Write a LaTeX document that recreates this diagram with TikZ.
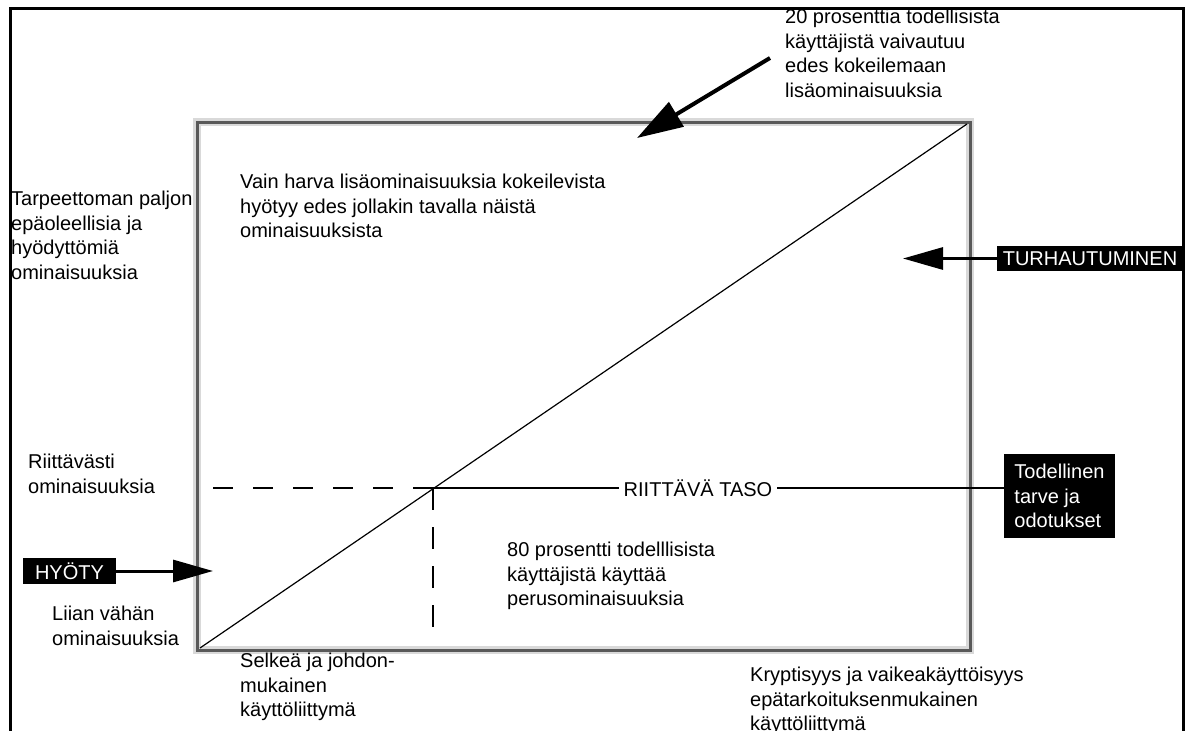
\documentclass[tikz,border=0pt]{standalone}
\usepackage{fontspec}
\setmainfont{Liberation Sans}
\usetikzlibrary{arrows.meta}
\begin{document}
\begin{tikzpicture}[x=1pt, y=-1pt, font=\fontsize{20}{24.5}\selectfont, txt/.style={anchor=north west, inner sep=0pt, align=left}, blackbox/.style={fill=black, text=white, inner sep=0pt}, bigarrow/.style={line width=3pt, -{Triangle[length=40pt, width=22pt]}}]
			\useasboundingbox (0,0) rectangle (1187,731);
			\draw[line width=3pt] (10,731) -- (10,8) -- (1183,8) -- (1183,731);
			\draw[line width=8pt, black!15] (197,122) rectangle (970,650);
			\draw[line width=3pt, black!65] (197,122) rectangle (970,650);
			\coordinate (O) at (200,648);
			\coordinate (Q) at (967,124);
			\coordinate (M) at (433,488);
			\coordinate (L) at (213,488);
			\coordinate (D) at (433,637);
			\draw[line width=1.2pt] (O) -- (Q);
			\node[txt] (t20) at (785,9) {20 prosenttia todellisista\\käyttäjistä vaivautuu\\edes kokeilemaan\\lisäominaisuuksia};
			\node[txt] (vain) at (240,174) {Vain harva lisäominaisuuksia kokeilevista\\hyötyy edes jollakin tavalla näistä\\ominaisuuksista};
			\node[txt] (tarp) at (11,191) {Tarpeettoman paljon\\epäoleellisia ja\\hyödyttömiä\\ominaisuuksia};
			\node[txt] (riitt) at (28,454) {Riittävästi\\ominaisuuksia};
			\node[txt] (liian) at (52,606) {Liian vähän\\ominaisuuksia};
			\node[txt] (selkea) at (240,653) {Selkeä ja johdon-\\mukainen\\käyttöliittymä};
			\node[txt] (p80) at (507,542) {80 prosentti todelllisista\\käyttäjistä käyttää\\perusominaisuuksia};
			\node[txt] (krypt) at (750,667) {Kryptisyys ja vaikeakäyttöisyys\\epätarkoituksenmukainen\\käyttöliittymä};
			\node[inner xsep=5pt, inner ysep=0pt] (taso) at (698,488) {RIITTÄVÄ TASO};
			\node[blackbox, align=left, minimum width=111pt, minimum height=84pt] (tod) at (1059.5,496) {Todellinen\\tarve ja\\odotukset};
			\node[blackbox, minimum width=186pt, minimum height=25pt] (turh) at (1090,258.5) {TURHAUTUMINEN};
			\node[blackbox, minimum width=93pt, minimum height=26pt] (hyoty) at (69.5,571) {HYÖTY};
			\coordinate (HT) at (213,571);
			\coordinate (TT) at (903,258.5);
			\coordinate (A1) at (770,58);
			\coordinate (A2) at (637,138);
			\draw[dashed, dash pattern=on 20pt off 20pt, line width=1.2pt] (L) -- (M);
			\draw[dashed, dash pattern=on 22pt off 17pt, line width=1.2pt] (M) -- (D);
			\draw[line width=1.2pt] (M) -- (taso.west);
			\draw[line width=1.2pt] (taso.east) -- (taso.east -| tod.west);
			\draw[bigarrow] (hyoty.east) -- (HT);
			\draw[bigarrow] (turh.west) -- (TT);
			\draw[line width=4pt, -{Triangle[length=46pt, width=28pt]}] (A1) -- (A2);
	\end{tikzpicture}
\end{document}
